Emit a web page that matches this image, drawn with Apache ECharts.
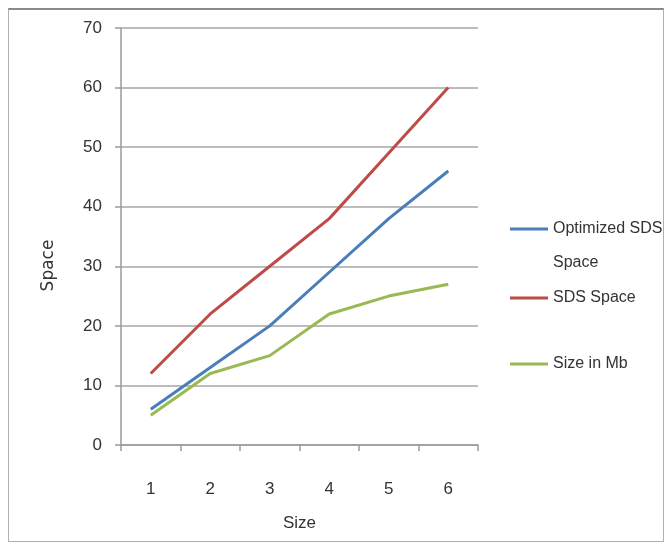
<!DOCTYPE html>
<html>
<head>
<meta charset="utf-8">
<script src="https://cdn.jsdelivr.net/npm/echarts@6/dist/echarts.min.js"></script>
<style>
html,body{margin:0;padding:0;background:#fff;}
#frame{position:absolute;left:8px;top:8px;width:656px;height:534px;border:1px solid #b0b0b0;border-top:2px solid #8a8a8a;box-sizing:border-box;}
#chart{position:absolute;left:0;top:0;width:670px;height:547px;}
</style>
</head>
<body>
<div id="frame"></div>
<div id="chart"></div>
<script>
const categories = ['1', '2', '3', '4', '5', '6'];
const optimizedSds = [6, 13, 20, 29, 38, 46];
const sdsSpace = [12, 22, 30, 38, 49, 60];
const sizeInMb = [5, 12, 15, 22, 25, 27];
const yTicks = [0, 10, 20, 30, 40, 50, 60, 70];

const FONT = '"Liberation Sans", sans-serif';
const chart = echarts.init(document.getElementById('chart'));
const legendBase = {
  orient: 'vertical', left: 510, padding: 0, itemWidth: 38, itemHeight: 3, itemGap: 0,
  icon: 'rect',
  textStyle: { fontFamily: FONT, fontSize: 16, color: '#333', lineHeight: 34 }
};
chart.setOption({
  animation: false,
  grid: { left: 121, right: 192, top: 28, bottom: 102 },
  legend: [
    Object.assign({}, legendBase, { top: 178, data: ['Optimized SDS Space'],
      formatter: function () { return ' \nOptimized SDS\nSpace'; } }),
    Object.assign({}, legendBase, { top: 281, data: ['SDS Space'] }),
    Object.assign({}, legendBase, { top: 347, data: ['Size in Mb'] })
  ],
  xAxis: {
    type: 'category', data: categories, boundaryGap: true,
    name: 'Size', nameLocation: 'middle', nameGap: 70,
    nameTextStyle: { fontFamily: FONT, fontSize: 17, color: '#333' },
    axisLine: { lineStyle: { color: '#9a9a9a', width: 1.5 } },
    axisTick: { show: true, alignWithLabel: false, length: 6, lineStyle: { color: '#9a9a9a', width: 1.5 } },
    axisLabel: { fontFamily: FONT, fontSize: 17, color: '#333', margin: 36 }
  },
  yAxis: {
    type: 'value', min: 0, max: 70, interval: 10,
    name: 'Space', nameLocation: 'middle', nameGap: 64, nameRotate: 90,
    nameTextStyle: { fontFamily: '"DejaVu Sans", sans-serif', fontSize: 17, color: '#333', padding: [0, 58, 0, 0] },
    axisLine: { show: true, lineStyle: { color: '#9a9a9a', width: 1.5 } },
    axisTick: { show: true, length: 6, lineStyle: { color: '#9a9a9a', width: 1.5 } },
    splitLine: { lineStyle: { color: '#a6a6a6', width: 1.5 } },
    axisLabel: { fontFamily: FONT, fontSize: 17, color: '#333', margin: 19,
      formatter: function (v) { return yTicks.indexOf(v) >= 0 ? String(v) : ''; } }
  },
  series: [
    { name: 'Optimized SDS Space', type: 'line', data: optimizedSds, showSymbol: false,
      color: '#4a7ebb', lineStyle: { width: 3, color: '#4a7ebb' } },
    { name: 'SDS Space', type: 'line', data: sdsSpace, showSymbol: false,
      color: '#be4b48', lineStyle: { width: 3, color: '#be4b48' } },
    { name: 'Size in Mb', type: 'line', data: sizeInMb, showSymbol: false,
      color: '#98b954', lineStyle: { width: 3, color: '#98b954' } }
  ]
});
</script>
</body>
</html>
